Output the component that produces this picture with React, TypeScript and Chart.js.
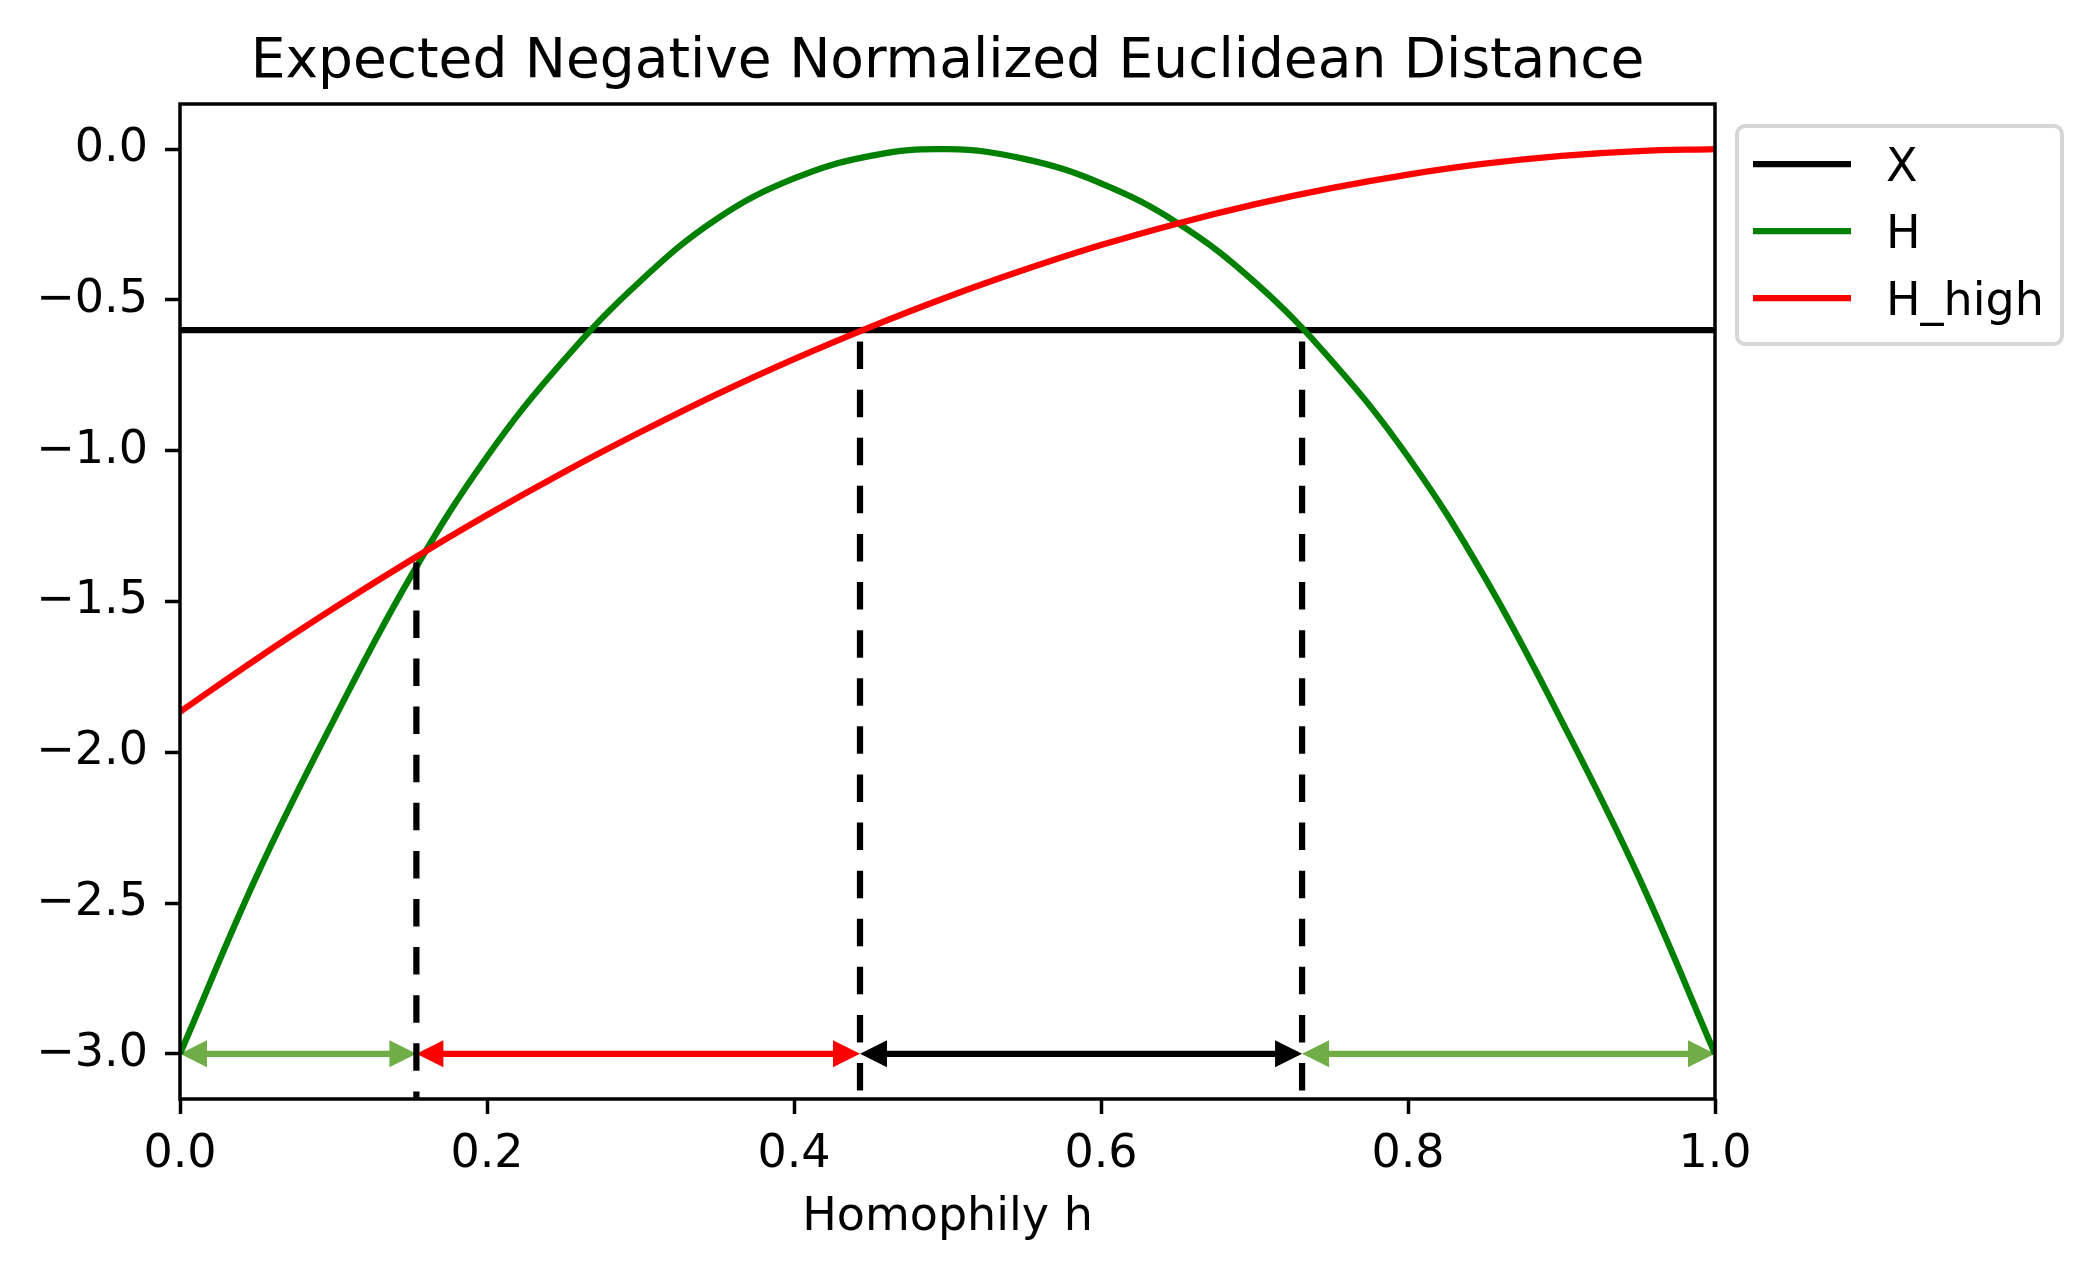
import React, { useEffect, useRef } from 'react';
import { Chart, registerables } from 'chart.js';

Chart.register(...registerables);

// ---------- data ----------
const hValues = [0, 0.05, 0.1, 0.15, 0.2, 0.25, 0.3, 0.35, 0.4, 0.45, 0.5, 0.55, 0.6, 0.65, 0.7, 0.75, 0.8, 0.85, 0.9, 0.95, 1.0];
const hCurve = [-3.0, -2.41, -1.895, -1.42, -1.02, -0.7, -0.437, -0.23, -0.097, -0.022, 0, -0.032, -0.113, -0.245, -0.44, -0.7, -1.02, -1.42, -1.895, -2.41, -3.0];
const hHighCurve = [-1.866, -1.69, -1.523, -1.364, -1.213, -1.071, -0.938, -0.812, -0.696, -0.589, -0.49, -0.4, -0.318, -0.246, -0.183, -0.129, -0.084, -0.048, -0.022, -0.006, 0];
const xLevel = -0.6;
const seriesNames = ['X', 'H', 'H_high'];
const seriesColors = ['#000000', '#008000', '#ff0000'];
const dashX = [0.154, 0.443, 0.731];
const dashTop = [-1.37, -0.6, -0.6];
const arrowFrom = [0, 0.154, 0.443, 0.731];
const arrowTo = [0.154, 0.443, 0.731, 1.0];
const arrowColors = ['#70ad47', '#ff0000', '#000000', '#70ad47'];
const arrowLevel = -3.0;
const xTicks = [0, 0.2, 0.4, 0.6, 0.8, 1.0];
const xTickLabels = ['0.0', '0.2', '0.4', '0.6', '0.8', '1.0'];
const yTicks = [0, -0.5, -1.0, -1.5, -2.0, -2.5, -3.0];
const yTickLabels = ['0.0', '\u22120.5', '\u22121.0', '\u22121.5', '\u22122.0', '\u22122.5', '\u22123.0'];
const xRange = [0, 1];
const yRange = [-3.15, 0.15];
const titleText = 'Expected Negative Normalized Euclidean Distance';
const xAxisTitle = 'Homophily h';

// ---------- layout / style ----------
const W = 2094;
const H = 1274;
const FONT = "'DejaVu Sans', 'Liberation Sans', sans-serif";
const TICK_PX = 46;
const TITLE_PX = 55;
const LW = 6.25;

const decorPlugin = {
  id: 'decor',
  beforeDatasetsDraw(chart: any) {
    const ctx = chart.ctx;
    const xs = chart.scales.x;
    const ys = chart.scales.y;
    const y = ys.getPixelForValue(arrowLevel);
    const headLen = 27;
    const headHalf = 13.5;
    ctx.save();
    for (let i = 0; i < arrowFrom.length; i++) {
      const x1 = xs.getPixelForValue(arrowFrom[i]);
      const x2 = xs.getPixelForValue(arrowTo[i]);
      ctx.strokeStyle = arrowColors[i];
      ctx.fillStyle = arrowColors[i];
      ctx.lineWidth = LW;
      ctx.lineCap = 'butt';
      ctx.beginPath();
      ctx.moveTo(x1 + headLen - 2, y);
      ctx.lineTo(x2 - headLen + 2, y);
      ctx.stroke();
      ctx.beginPath();
      ctx.moveTo(x1, y);
      ctx.lineTo(x1 + headLen, y - headHalf);
      ctx.lineTo(x1 + headLen, y + headHalf);
      ctx.closePath();
      ctx.fill();
      ctx.beginPath();
      ctx.moveTo(x2, y);
      ctx.lineTo(x2 - headLen, y - headHalf);
      ctx.lineTo(x2 - headLen, y + headHalf);
      ctx.closePath();
      ctx.fill();
    }
    ctx.restore();
  },
  afterDatasetsDraw(chart: any) {
    const ctx = chart.ctx;
    const a = chart.chartArea;
    ctx.save();
    ctx.strokeStyle = '#000';
    ctx.lineWidth = 3.5;
    ctx.strokeRect(a.left, a.top, a.right - a.left, a.bottom - a.top);
    ctx.restore();
  },
  afterDraw(chart: any) {
    const ctx = chart.ctx;
    const a = chart.chartArea;
    const cx = (a.left + a.right) / 2;
    ctx.save();
    ctx.fillStyle = '#000';
    ctx.textAlign = 'center';
    ctx.textBaseline = 'alphabetic';
    ctx.font = `${TITLE_PX}px ${FONT}`;
    ctx.fillText(titleText, cx, 77);
    ctx.font = `${TICK_PX}px ${FONT}`;
    ctx.fillText(xAxisTitle, cx, 1230);

    // legend
    const bx = a.right + 22;
    const by = a.top + 22;
    const bw = 325;
    const bh = 218;
    const r = 8;
    ctx.beginPath();
    ctx.moveTo(bx + r, by);
    ctx.lineTo(bx + bw - r, by);
    ctx.arcTo(bx + bw, by, bx + bw, by + r, r);
    ctx.lineTo(bx + bw, by + bh - r);
    ctx.arcTo(bx + bw, by + bh, bx + bw - r, by + bh, r);
    ctx.lineTo(bx + r, by + bh);
    ctx.arcTo(bx, by + bh, bx, by + bh - r, r);
    ctx.lineTo(bx, by + r);
    ctx.arcTo(bx, by, bx + r, by, r);
    ctx.closePath();
    ctx.fillStyle = 'rgba(255,255,255,0.8)';
    ctx.fill();
    ctx.strokeStyle = '#d6d6d6';
    ctx.lineWidth = 4;
    ctx.stroke();

    ctx.textAlign = 'left';
    for (let i = 0; i < seriesNames.length; i++) {
      const ly = by + 38 + i * 67;
      ctx.strokeStyle = seriesColors[i];
      ctx.lineWidth = LW;
      ctx.beginPath();
      ctx.moveTo(bx + 16, ly);
      ctx.lineTo(bx + 114, ly);
      ctx.stroke();
      ctx.fillStyle = '#000';
      ctx.fillText(seriesNames[i], bx + 149, ly + 16.5);
    }
    ctx.restore();
  },
};

export default function App() {
  const ref = useRef<HTMLCanvasElement>(null);
  useEffect(() => {
    const canvas = ref.current;
    if (!canvas) return;
    const curveStyle = { borderWidth: LW, pointRadius: 0, tension: 0.4, clip: 0 };
    const datasets: any[] = [
      {
        label: seriesNames[0],
        data: xRange.map((x) => ({ x, y: xLevel })),
        borderColor: seriesColors[0],
        borderWidth: LW,
        pointRadius: 0,
        order: 3,
        clip: 0,
      },
      {
        label: seriesNames[1],
        data: hValues.map((x, i) => ({ x, y: hCurve[i] })),
        borderColor: seriesColors[1],
        ...curveStyle,
        order: 2,
      },
      {
        label: seriesNames[2],
        data: hValues.map((x, i) => ({ x, y: hHighCurve[i] })),
        borderColor: seriesColors[2],
        ...curveStyle,
        order: 1,
      },
      ...dashX.map((x, i) => ({
        label: '',
        data: [
          { x, y: dashTop[i] },
          { x, y: yRange[0] },
        ],
        borderColor: '#000',
        borderWidth: LW,
        borderDash: [27.5, 20.6],
        borderDashOffset: i === 0 ? 0 : 36.7,
        pointRadius: 0,
        order: 0,
        clip: 0,
      })),
    ];

    const chart = new Chart(canvas, {
      type: 'line',
      data: { datasets },
      plugins: [decorPlugin],
      options: {
        animation: false,
        responsive: false,
        devicePixelRatio: 1,
        events: [],
        layout: { autoPadding: false, padding: { left: 0, right: W - 1715, top: 104, bottom: 0 } },
        plugins: { legend: { display: false }, tooltip: { enabled: false }, title: { display: false } },
        scales: {
          x: {
            type: 'linear',
            min: xRange[0],
            max: xRange[1],
            afterBuildTicks: (s: any) => {
              s.ticks = xTicks.map((v) => ({ value: v }));
            },
            afterFit: (s: any) => {
              s.height = H - 1099;
            },
            border: { display: false },
            grid: { display: true, drawOnChartArea: false, drawTicks: true, tickLength: 15, tickWidth: 3.5, tickColor: '#000' },
            ticks: {
              autoSkip: false,
              maxRotation: 0,
              padding: 13,
              color: '#000',
              font: { family: FONT, size: TICK_PX },
              callback: (_v: any, i: number) => xTickLabels[i],
            },
          },
          y: {
            type: 'linear',
            min: yRange[0],
            max: yRange[1],
            afterBuildTicks: (s: any) => {
              s.ticks = yTicks.map((v) => ({ value: v }));
            },
            afterFit: (s: any) => {
              s.width = 180;
            },
            border: { display: false },
            grid: { display: true, drawOnChartArea: false, drawTicks: true, tickLength: 15, tickWidth: 3.5, tickColor: '#000' },
            ticks: {
              autoSkip: false,
              padding: 17,
              color: '#000',
              font: { family: FONT, size: TICK_PX },
              callback: (_v: any, i: number) => yTickLabels[i],
            },
          },
        },
      } as any,
    });
    return () => chart.destroy();
  }, []);
  return (
    <div style={{ position: 'absolute', left: 0, top: 0, width: W, height: H, background: '#fff' }}>
      <canvas ref={ref} width={W} height={H} style={{ width: W, height: H, display: 'block' }} />
    </div>
  );
}
